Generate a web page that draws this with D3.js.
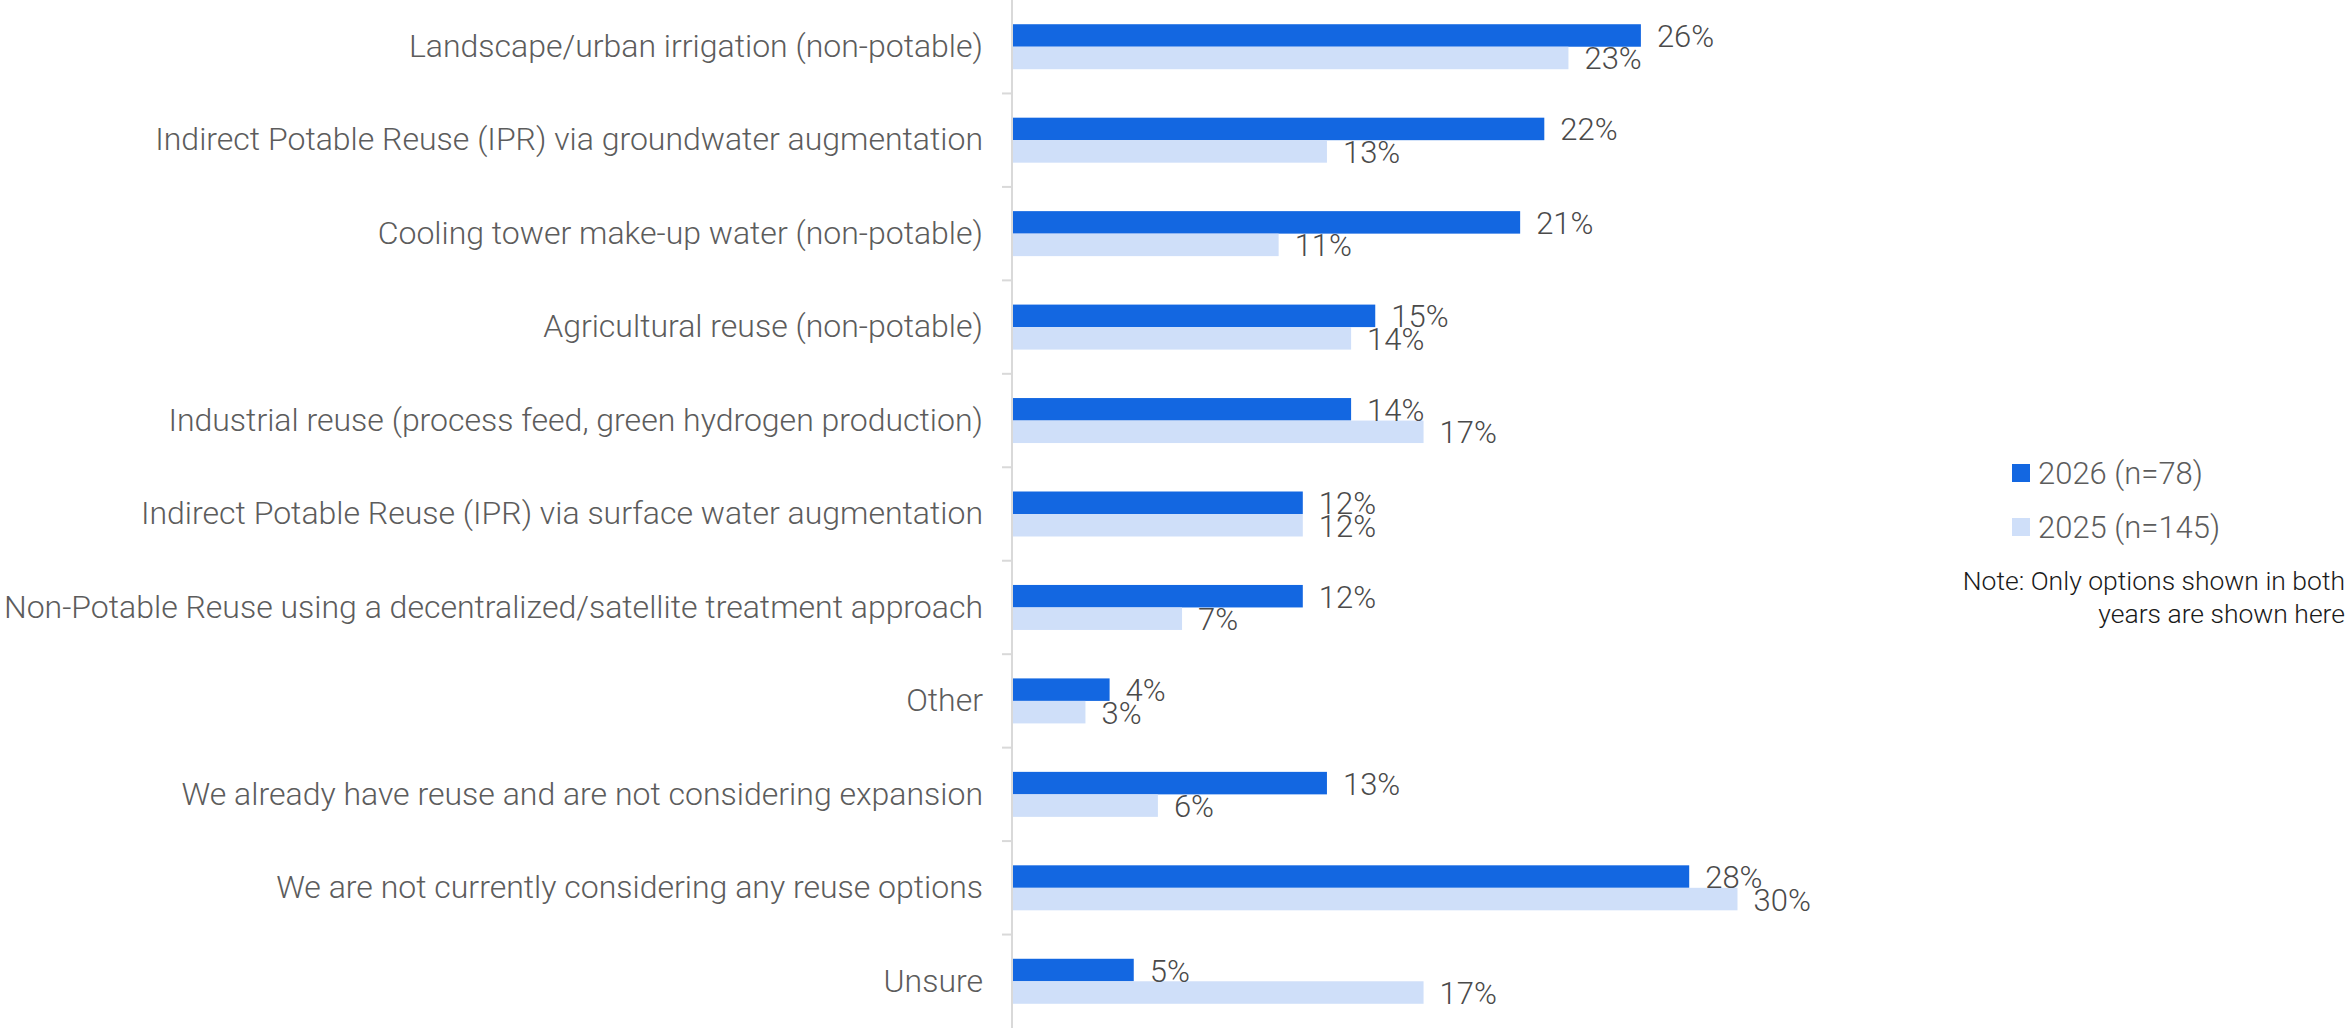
<!DOCTYPE html>
<html>
<head>
<meta charset="utf-8">
<script src="https://cdn.jsdelivr.net/npm/d3@7"></script>
<style>
  html, body { margin: 0; padding: 0; background: #fff; }
  svg { display: block; }
  text { font-family: "Roboto Light", Roboto, "Noto Sans", sans-serif; }
</style>
</head>
<body>
<svg id="chart" width="2349" height="1028"></svg>
<script>
const categories = [
  "Landscape/urban irrigation (non-potable)",
  "Indirect Potable Reuse (IPR) via groundwater augmentation",
  "Cooling tower make-up water (non-potable)",
  "Agricultural reuse (non-potable)",
  "Industrial reuse (process feed, green hydrogen production)",
  "Indirect Potable Reuse (IPR) via surface water augmentation",
  "Non-Potable Reuse using a decentralized/satellite treatment approach",
  "Other",
  "We already have reuse and are not considering expansion",
  "We are not currently considering any reuse options",
  "Unsure"
];
const seriesNames = ["2026 (n=78)", "2025 (n=145)"];
const values2026 = [26, 22, 21, 15, 14, 12, 12, 4, 13, 28, 5];
const values2025 = [23, 13, 11, 14, 17, 12, 7, 3, 6, 30, 17];
const seriesColors = ["#1367E1", "#CFDFF9"];
const noteLines = ["Note: Only options shown in both", "years are shown here"];

const svg = d3.select("#chart");
const W = 2349, H = 1028;
const axisX = 1013;
const FONT = '"Roboto Light", Roboto, sans-serif';

const x = d3.scaleLinear().domain([0, 30]).range([axisX, axisX + 724.5]);
const y0 = d3.scaleBand().domain(categories).range([0, H]).padding(0);
const groupH = 45;
const y1 = d3.scaleBand().domain(seriesNames).range([0, groupH]).padding(0);
const offset = (y0.bandwidth() - groupH) / 2;

const rows = categories.map((c, i) => ({
  cat: c,
  vals: [
    { s: seriesNames[0], v: values2026[i], color: seriesColors[0] },
    { s: seriesNames[1], v: values2025[i], color: seriesColors[1] }
  ]
}));

// axis line + boundary ticks
svg.append("line")
  .attr("x1", axisX - 1).attr("x2", axisX - 1)
  .attr("y1", 0).attr("y2", H)
  .attr("stroke", "#d9d9d9").attr("stroke-width", 2);
const boundaries = categories.slice(1).map(c => y0(c));
svg.selectAll(".btick").data(boundaries).enter().append("line")
  .attr("x1", axisX - 11).attr("x2", axisX - 1)
  .attr("y1", d => d).attr("y2", d => d)
  .attr("stroke", "#d9d9d9").attr("stroke-width", 2);

// category labels via axis
const yAxis = d3.axisLeft(y0).tickSize(0).tickPadding(0);
const ag = svg.append("g").attr("transform", `translate(${axisX - 30},0)`).call(yAxis);
ag.select(".domain").remove();
ag.selectAll("text")
  .attr("font-family", FONT)
  .attr("font-weight", 300)
  .attr("font-size", 32)
  .attr("fill", "#5c5c5c");

// bars
const g = svg.selectAll(".grp").data(rows).enter().append("g")
  .attr("transform", d => `translate(0,${y0(d.cat) + offset})`);
g.selectAll("rect").data(d => d.vals).enter().append("rect")
  .attr("x", x(0))
  .attr("y", d => y1(d.s))
  .attr("width", d => x(d.v) - x(0))
  .attr("height", y1.bandwidth())
  .attr("fill", d => d.color);
g.selectAll("text").data(d => d.vals).enter().append("text")
  .attr("x", d => x(d.v) + 16)
  .attr("y", d => y1(d.s) + y1.bandwidth() / 2 + 11.5)
  .attr("font-family", FONT)
  .attr("font-weight", 300)
  .attr("font-size", 31)
  .attr("fill", "#4a4a4a")
  .text(d => d.v + "%");

// legend
const legend = svg.append("g");
const legY = [464, 518];
seriesNames.forEach((s, i) => {
  legend.append("rect")
    .attr("x", 2012).attr("y", legY[i])
    .attr("width", 18).attr("height", 18)
    .attr("fill", seriesColors[i]);
  legend.append("text")
    .attr("x", 2038).attr("y", legY[i] + 20)
    .attr("font-family", FONT)
    .attr("font-weight", 300).attr("font-size", 31)
    .attr("fill", "#5c5c5c")
    .text(s);
});
noteLines.forEach((t, i) => {
  svg.append("text")
    .attr("x", 2345).attr("y", 590 + i * 33)
    .attr("text-anchor", "end")
    .attr("font-family", FONT)
    .attr("font-weight", 300).attr("font-size", 26.5)
    .attr("fill", "#1a1a1a")
    .text(t);
});
</script>
</body>
</html>
